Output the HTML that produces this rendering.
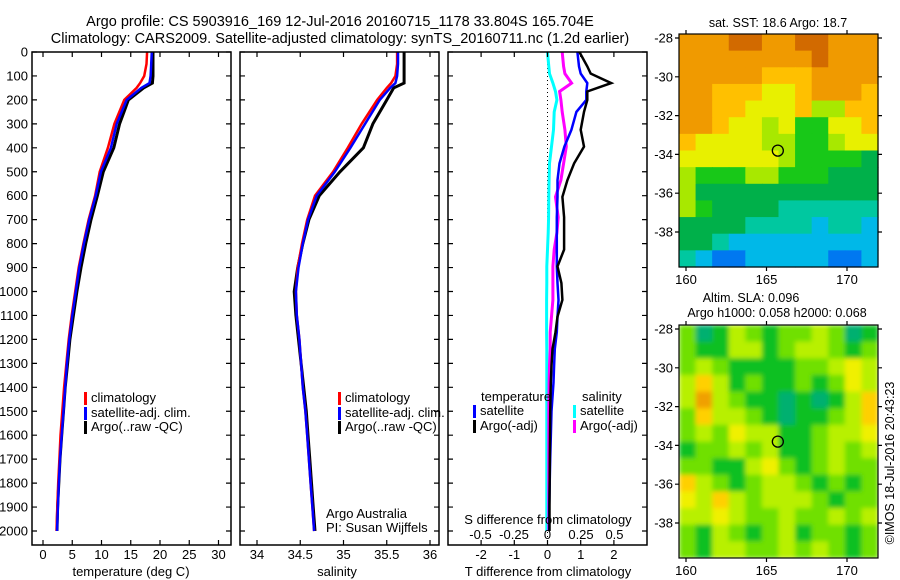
<!DOCTYPE html>
<html><head><meta charset="utf-8"><style>
html,body{margin:0;padding:0;background:#fff;}
svg{display:block;font-family:"Liberation Sans",sans-serif;}
text{fill:#000;}
</style></head><body>
<svg id="fig" width="900" height="580" viewBox="0 0 900 580" xmlns="http://www.w3.org/2000/svg">
<defs>
<filter id="soft" x="-5%" y="-5%" width="110%" height="110%"><feGaussianBlur stdDeviation="2.5"/></filter>
<clipPath id="clip2"><rect x="679" y="325" width="199" height="233"/></clipPath>
</defs>
<text x="340" y="26" font-size="14.5" text-anchor="middle">Argo profile: CS 5903916_169 12-Jul-2016 20160715_1178 33.804S 165.704E</text>
<text x="340" y="43" font-size="14.5" text-anchor="middle">Climatology: CARS2009. Satellite-adjusted climatology: synTS_20160711.nc (1.2d earlier)</text>
<g id="g1"></g>
<g id="g2"></g>
<g id="g3"></g>
<g id="m1"></g>
<g id="m2"></g>
<text transform="translate(894,463) rotate(-90)" font-size="12.5" text-anchor="middle">©IMOS 18-Jul-2016 20:43:23</text>
</svg>
<script>
// ---- data ----
const depths = [0,50,100,130,150,200,300,400,500,600,700,800,900,1000,1100,1200,1300,1400,1500,1600,1700,1800,1900,2000];
const tClim = [17.8,17.7,17.3,16.6,16.0,13.9,12.2,11.1,9.7,8.9,7.8,6.9,6.1,5.5,4.9,4.4,4.0,3.6,3.3,3.0,2.8,2.6,2.45,2.3];
const tSat = [18.6,18.5,18.4,18.2,16.8,14.3,12.6,11.6,9.9,9.0,7.9,7.0,6.2,5.6,5.0,4.5,4.1,3.8,3.5,3.2,2.9,2.7,2.55,2.4];
const tArgo = [18.8,18.8,18.8,18.7,17.2,14.6,13.1,12.1,10.3,9.3,8.2,7.3,6.5,5.8,5.2,4.6,4.2,3.8,3.5,3.2,2.9,2.7,2.5,2.4];
const sClim = [35.62,35.62,35.6,35.55,35.5,35.39,35.21,35.05,34.88,34.67,34.58,34.52,34.47,34.45,34.46,34.49,34.51,34.53,34.56,34.58,34.6,34.62,34.64,34.66];
const sSat = [35.63,35.63,35.62,35.6,35.54,35.42,35.25,35.08,34.9,34.69,34.59,34.53,34.48,34.45,34.46,34.49,34.51,34.53,34.56,34.58,34.6,34.62,34.64,34.66];
const sArgo = [35.7,35.7,35.7,35.7,35.58,35.5,35.34,35.23,34.96,34.72,34.6,34.53,34.47,34.43,34.45,34.48,34.51,34.54,34.57,34.59,34.61,34.63,34.65,34.67];
const diffDepths = [0,60,90,130,165,200,250,325,395,465,535,605,690,755,825,895,965,1035,1105,1170,1240,1310,1380,1500,1700,1900,2000];
const dTArgo = [0.96,1.2,1.3,1.92,1.2,1.2,1.1,1.0,1.1,0.8,0.6,0.45,0.5,0.5,0.5,0.3,0.42,0.45,0.3,0.24,0.15,0.12,0.1,0.08,0.07,0.06,0.06];
const dTSat = [0.9,0.95,1.0,1.2,1.17,1.17,0.87,0.72,0.51,0.36,0.3,0.3,0.28,0.28,0.28,0.28,0.3,0.33,0.3,0.28,0.22,0.2,0.18,0.12,0.08,0.05,0.05];
const dSSat = [0,0.01,0.015,0.04,0.06,0.07,0.05,0.045,0.03,0.015,0.012,0.01,0.008,0.005,0,-0.005,-0.005,-0.007,-0.007,-0.007,-0.005,-0.005,-0.005,-0.005,-0.005,-0.005,-0.005];
const dSArgo = [0.11,0.12,0.13,0.18,0.09,0.1,0.11,0.13,0.14,0.12,0.1,0.06,0.08,0.07,0.05,0.04,0.04,0.04,0.03,0.02,0.02,0.015,0.012,0.01,0.01,0.01,0.01];
const depthTicks = [0,100,200,300,400,500,600,700,800,900,1000,1100,1200,1300,1400,1500,1600,1700,1800,1900,2000];
const tTicks = [0,5,10,15,20,25,30];
const sTicks = [34,34.5,35,35.5,36];
const dTTicks = [-2,-1,0,1,2];
const dSTicks = [-0.5,-0.25,0,0.25,0.5];
const dSTickLabels = ['-0.5','-0.25','0','0.25','0.5'];
const latTicks = [-28,-30,-32,-34,-36,-38];
const lonTicks = [160,165,170];
const argoLon = 165.704, argoLat = -33.804;
const sstPalette = ['#d26a00','#f09a00','#ffc000','#e8f000','#a8e800','#18c818','#00b04a','#00c8a0','#00b8e8','#0078f0'];
const sstGrid = [
[1,1,1,0,0,1,1,0,0,1,1,1],[1,1,1,1,1,1,1,1,0,1,1,1],[1,1,1,1,1,2,2,2,1,1,1,1],
[1,1,2,2,2,3,3,2,1,1,1,2],[1,1,2,2,3,3,3,2,4,4,2,2],[1,1,2,3,3,4,3,5,5,3,3,2],
[2,3,3,3,3,4,4,5,5,4,3,3],[3,3,3,3,3,3,4,5,5,5,5,6],[4,5,5,5,4,4,5,5,5,6,6,6],
[4,6,6,6,6,6,6,6,6,6,6,6],[4,5,6,6,6,6,7,7,7,7,7,7],[6,6,6,6,7,7,7,7,8,7,7,8],
[6,6,7,8,8,8,8,8,8,8,8,8],[7,8,9,9,8,8,8,8,8,9,9,8]];
const slaPalette = ['#00b070','#10c020','#70e000','#b8f000','#f0f000','#ffd000','#f0a000'];
const slaGrid = [
[2,0,1,3,2,1,2,2,3,2,0,1],[2,1,1,3,3,1,2,3,3,2,1,2],[2,3,2,1,1,1,1,2,2,3,4,3],
[3,5,3,1,2,1,1,2,1,2,4,3],[3,6,3,2,1,1,0,1,0,1,3,5],[2,5,3,3,2,1,0,1,1,2,3,5],
[2,3,2,4,3,3,1,1,2,3,3,4],[1,2,2,3,2,3,1,1,2,3,2,3],[2,2,1,1,3,4,2,1,2,3,2,2],
[5,3,2,1,2,3,3,2,1,2,1,2],[4,3,5,3,2,3,3,3,2,1,2,2],[3,3,4,3,2,2,3,2,2,3,2,3],
[2,1,3,2,1,2,3,1,2,2,1,2],[2,1,3,3,2,2,3,2,3,2,1,2]];

const NS='http://www.w3.org/2000/svg';
function mk(parent,tag,attrs,txt){const e=document.createElementNS(NS,tag);for(const k in attrs)e.setAttribute(k,attrs[k]);if(txt!==undefined)e.textContent=txt;parent.appendChild(e);return e;}
const yD = d => 52 + d*0.2395;
const PT=52, PB=545;

function frame(g,x0,x1,name){
  const r=mk(g,'rect',{x:x0,y:PT,width:x1-x0,height:PB-PT,fill:'none',stroke:'#000','stroke-width':1.5});
  
  
  depthTicks.forEach(d=>{
    const y=yD(d);
    const t=mk(g,'path',{d:`M${x0},${y}h5M${x1},${y}h-5`,stroke:'#000','stroke-width':1.2});
    
    
  });
}
function xticks(g,vals,labels,fx,yLab,top,bottom){
  vals.forEach((v,i)=>{
    const x=fx(v);
    let d='';
    if(top) d+=`M${x},${PT}v5`;
    if(bottom) d+=`M${x},${PB}v-5`;
    if(d){const t=mk(g,'path',{d:d,stroke:'#000','stroke-width':1.2});
      
      }
    const l=mk(g,'text',{x:x,y:yLab,'font-size':13,'text-anchor':'middle'},labels[i]);
    
    
  });
}
function line(g,xs,ds,fx,color,w,name){
  const p=xs.map((v,i)=>`${fx(v).toFixed(1)},${yD(ds[i]).toFixed(1)}`).join(' ');
  const l=mk(g,'polyline',{points:p,fill:'none',stroke:color,'stroke-width':w,'stroke-linejoin':'miter'});
  
  
}
function legend(g,x,y,color,label){
  const m=mk(g,'rect',{x:x,y:y-10,width:3,height:13,fill:color});
  
  
  if(label){const t=mk(g,'text',{x:x+7,y:y,'font-size':13},label);
    
    }
}

// Panel 1: temperature
const g1=document.getElementById('g1');
const fT = v => 43 + v*5.85;
depthTicks.forEach(d=>{const t=mk(g1,'text',{x:28,y:yD(d)+4.5,'font-size':13,'text-anchor':'end'},String(d));
  
  });
line(g1,tArgo,depths,fT,'#000',3,'temperature-argo-line');
line(g1,tClim,depths,fT,'#f00',2.5,'temperature-climatology-line');
line(g1,tSat,depths,fT,'#00f',2.5,'temperature-satellite-line');
frame(g1,32,231,'temperature-panel');
xticks(g1,tTicks,tTicks.map(String),fT,559,true,true);
{const t=mk(g1,'text',{x:131,y:576,'font-size':13,'text-anchor':'middle'},'temperature (deg C)');
 }
legend(g1,84,402,'#f00','climatology');
legend(g1,84,417,'#00f','satellite-adj. clim.');
legend(g1,84,431,'#000','Argo(..raw -QC)');

// Panel 2: salinity
const g2=document.getElementById('g2');
const fS = v => 257 + (v-34)*86.5;
line(g2,sArgo,depths,fS,'#000',3,'salinity-argo-line');
line(g2,sClim,depths,fS,'#f00',2.5,'salinity-climatology-line');
line(g2,sSat,depths,fS,'#00f',2.5,'salinity-satellite-line');
frame(g2,240,439,'salinity-panel');
xticks(g2,sTicks,sTicks.map(String),fS,559,true,true);
{const t=mk(g2,'text',{x:337,y:576,'font-size':13,'text-anchor':'middle'},'salinity');
 }
legend(g2,338,402,'#f00','climatology');
legend(g2,338,417,'#00f','satellite-adj. clim.');
legend(g2,338,431,'#000','Argo(..raw -QC)');
{const t=mk(g2,'text',{x:326,y:518,'font-size':13},'Argo Australia');
 
 const u=mk(g2,'text',{x:326,y:532,'font-size':13},'PI: Susan Wijffels');
 }

// Panel 3: differences
const g3=document.getElementById('g3');
const fDT = v => 547.5 + v*33.2;
const fDS = v => 547.5 + v*134;
{const z=mk(g3,'line',{x1:fDT(0),x2:fDT(0),y1:PT,y2:PB,stroke:'#000','stroke-width':1,'stroke-dasharray':'1,3'});
 }
line(g3,dSSat,diffDepths,fDS,'#00ffff',3,'salinity-satellite-diff-line');
line(g3,dSArgo,diffDepths,fDS,'#ff00ff',3,'salinity-argo-diff-line');
line(g3,dTSat,diffDepths,fDT,'#00f',2.5,'temperature-satellite-diff-line');
line(g3,dTArgo,diffDepths,fDT,'#000',2.5,'temperature-argo-diff-line');
frame(g3,448,647,'difference-panel');
xticks(g3,dTTicks,dTTicks.map(String),fDT,559,true,true);
xticks(g3,dSTicks,dSTickLabels,fDS,539,false,false);
{const t=mk(g3,'text',{x:548,y:524,'font-size':13,'text-anchor':'middle'},'S difference from climatology');
 
 const u=mk(g3,'text',{x:548,y:576,'font-size':13,'text-anchor':'middle'},'T difference from climatology');
 
 const a=mk(g3,'text',{x:481,y:401,'font-size':13},'temperature');
 
 const b=mk(g3,'text',{x:582,y:401,'font-size':13},'salinity');
 }
legend(g3,473,415,'#00f','satellite');
legend(g3,473,430,'#000','Argo(-adj)');
legend(g3,573,415,'#00ffff','satellite');
legend(g3,573,430,'#ff00ff','Argo(-adj)');

// Maps
function map(g,top,grid,pal,name,smooth){
  const x0=679,x1=878,y0=top,y1=top+233;
  const rows=grid.length, cols=grid[0].length;
  const cw=(x1-x0)/cols, ch=(y1-y0)/rows;
  let cg=g;
  if(smooth){
    const clip=mk(g,'g',{'clip-path':'url(#clip2)'});
    
    
    cg=mk(clip,'g',{filter:'url(#soft)'});
    
    
  }
  grid.forEach((row,r)=>row.forEach((v,c)=>{
    const cell=mk(cg,'rect',{x:(x0+c*cw).toFixed(2),y:(y0+r*ch).toFixed(2),width:(cw+0.6).toFixed(2),height:(ch+0.6).toFixed(2),fill:pal[v]});
    
    
  }));
  const fLon=v=>686+(v-160)*16.1, fLat=v=>top+4+(-28-v)*19.4;
  const f=mk(g,'rect',{x:x0,y:y0,width:x1-x0,height:y1-y0,fill:'none',stroke:'#000','stroke-width':1.2});
  
  
  latTicks.forEach(v=>{const y=fLat(v);
    const t=mk(g,'path',{d:`M${x0},${y}h-4M${x1},${y}h4`,stroke:'#000','stroke-width':1.2});
    
    const l=mk(g,'text',{x:673,y:y+4.5,'font-size':13,'text-anchor':'end'},String(v));
    });
  lonTicks.forEach(v=>{const x=fLon(v);
    const t=mk(g,'path',{d:`M${x},${y0}v-4M${x},${y1}v4`,stroke:'#000','stroke-width':1.2});
    
    const l=mk(g,'text',{x:x,y:y1+17,'font-size':13,'text-anchor':'middle'},String(v));
    });
  const c=mk(g,'circle',{cx:fLon(argoLon),cy:fLat(argoLat),r:5.5,fill:'none',stroke:'#000','stroke-width':1.3});
  
  
}
const m1=document.getElementById('m1'), m2=document.getElementById('m2');
map(m1,34,sstGrid,sstPalette,'sst-map',false);
map(m2,325,slaGrid,slaPalette,'sla-map',true);
{const t=mk(m1,'text',{x:778,y:27,'font-size':12.5,'text-anchor':'middle'},'sat. SST: 18.6 Argo: 18.7');
 
 const a=mk(m2,'text',{x:751,y:302,'font-size':12.5,'text-anchor':'middle'},'Altim. SLA: 0.096');
 
 const b=mk(m2,'text',{x:777,y:317,'font-size':12.5,'text-anchor':'middle'},'Argo h1000: 0.058 h2000: 0.068');
 }
</script>
</body></html>
